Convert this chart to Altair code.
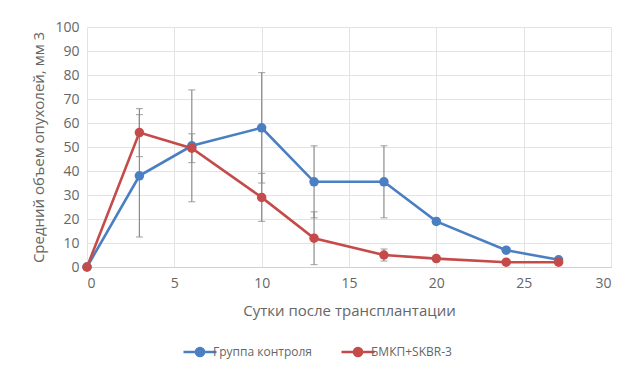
import altair as alt
import pandas as pd

days = [0, 3, 6, 10, 13, 17, 20, 24, 27]
control = [0, 38, 50.5, 58, 35.5, 35.5, 19, 7, 3]
control_err = [0, 25.5, 23.3, 23, 15, 15, 0, 0, 0]
treated = [0, 56, 49.5, 29, 12, 5, 3.5, 2, 2]
treated_err = [0, 10, 6, 10, 11, 2.5, 0, 0, 0]

series_names = ["Группа контроля", "БМКП+SKBR-3"]
colors = ["#4a7fc1", "#c54a4a"]

rows = []
for i, d in enumerate(days):
    rows.append({"day": d, "value": control[i], "err": control_err[i], "series": series_names[0]})
for i, d in enumerate(days):
    rows.append({"day": d, "value": treated[i], "err": treated_err[i], "series": series_names[1]})
df = pd.DataFrame(rows)
df["lo"] = df["value"] - df["err"]
df["hi"] = df["value"] + df["err"]
errdf = df[df["err"] > 0]

font = "Open Sans"
gray_text = "#666666"

xscale = alt.Scale(domain=[0, 30], nice=False)
yscale = alt.Scale(domain=[0, 100], nice=False)

axis_common = dict(labelFont=font, labelFontSize=14, labelColor=gray_text,
                   titleFont=font, titleFontSize=15, titleColor=gray_text,
                   titleFontWeight="normal", grid=True, gridColor="#e3e3e3", ticks=False)
xaxis = alt.Axis(title="Сутки после трансплантации", values=[0, 5, 10, 15, 20, 25, 30],
                 domain=True, domainColor="#d0d0d0",
                 labelPadding=9, titlePadding=13, **axis_common)
yaxis = alt.Axis(title="Средний объем опухолей, мм 3", values=list(range(0, 101, 10)),
                 domain=False, labelPadding=8, titlePadding=8, **axis_common)

legend = alt.Legend(title=None, orient="none", direction="horizontal",
                    legendX=104, legendY=316,
                    symbolType="M-2.2,0H2.2M-0.55,0A0.55,0.55 0 1,1 0.55,0A0.55,0.55 0 1,1 -0.55,0",
                    symbolSize=225, symbolStrokeWidth=2.4,
                    labelFont=font, labelFontSize=12, labelColor=gray_text,
                    columnPadding=24, labelOffset=4)
color = alt.Color("series:N", scale=alt.Scale(domain=series_names, range=colors), legend=legend)

err_color = "#8c8c8c"
rules = alt.Chart(errdf).mark_rule(color=err_color, strokeWidth=1.2).encode(
    x=alt.X("day:Q", scale=xscale, axis=xaxis),
    y=alt.Y("lo:Q", scale=yscale, axis=yaxis), y2="hi:Q")
caps_lo = alt.Chart(errdf).mark_tick(color=err_color, orient="horizontal", size=7, thickness=1.2).encode(
    x=alt.X("day:Q", scale=xscale, axis=xaxis), y=alt.Y("lo:Q", scale=yscale, axis=yaxis))
caps_hi = alt.Chart(errdf).mark_tick(color=err_color, orient="horizontal", size=7, thickness=1.2).encode(
    x=alt.X("day:Q", scale=xscale, axis=xaxis), y=alt.Y("hi:Q", scale=yscale, axis=yaxis))

lines = alt.Chart(df).mark_line(strokeWidth=2.6).encode(
    x=alt.X("day:Q", scale=xscale, axis=xaxis),
    y=alt.Y("value:Q", scale=yscale, axis=yaxis),
    color=color, order=alt.Order("day:Q"), detail="series:N")
points = alt.Chart(df).mark_circle(size=90, opacity=1).encode(
    x=alt.X("day:Q", scale=xscale, axis=xaxis),
    y=alt.Y("value:Q", scale=yscale, axis=yaxis),
    color=alt.Color("series:N", scale=alt.Scale(domain=series_names, range=colors), legend=None))

chart = alt.layer(rules, caps_lo, caps_hi, lines, points).properties(
    width=612, height=355,
    background="white",
    autosize=alt.AutoSizeParams(type="fit", contains="padding"),
    padding={"left": 23, "right": 9, "top": 12, "bottom": 45},
).configure_view(stroke=None)

chart.save("out.html", embed_options={"renderer": "svg", "actions": False})
